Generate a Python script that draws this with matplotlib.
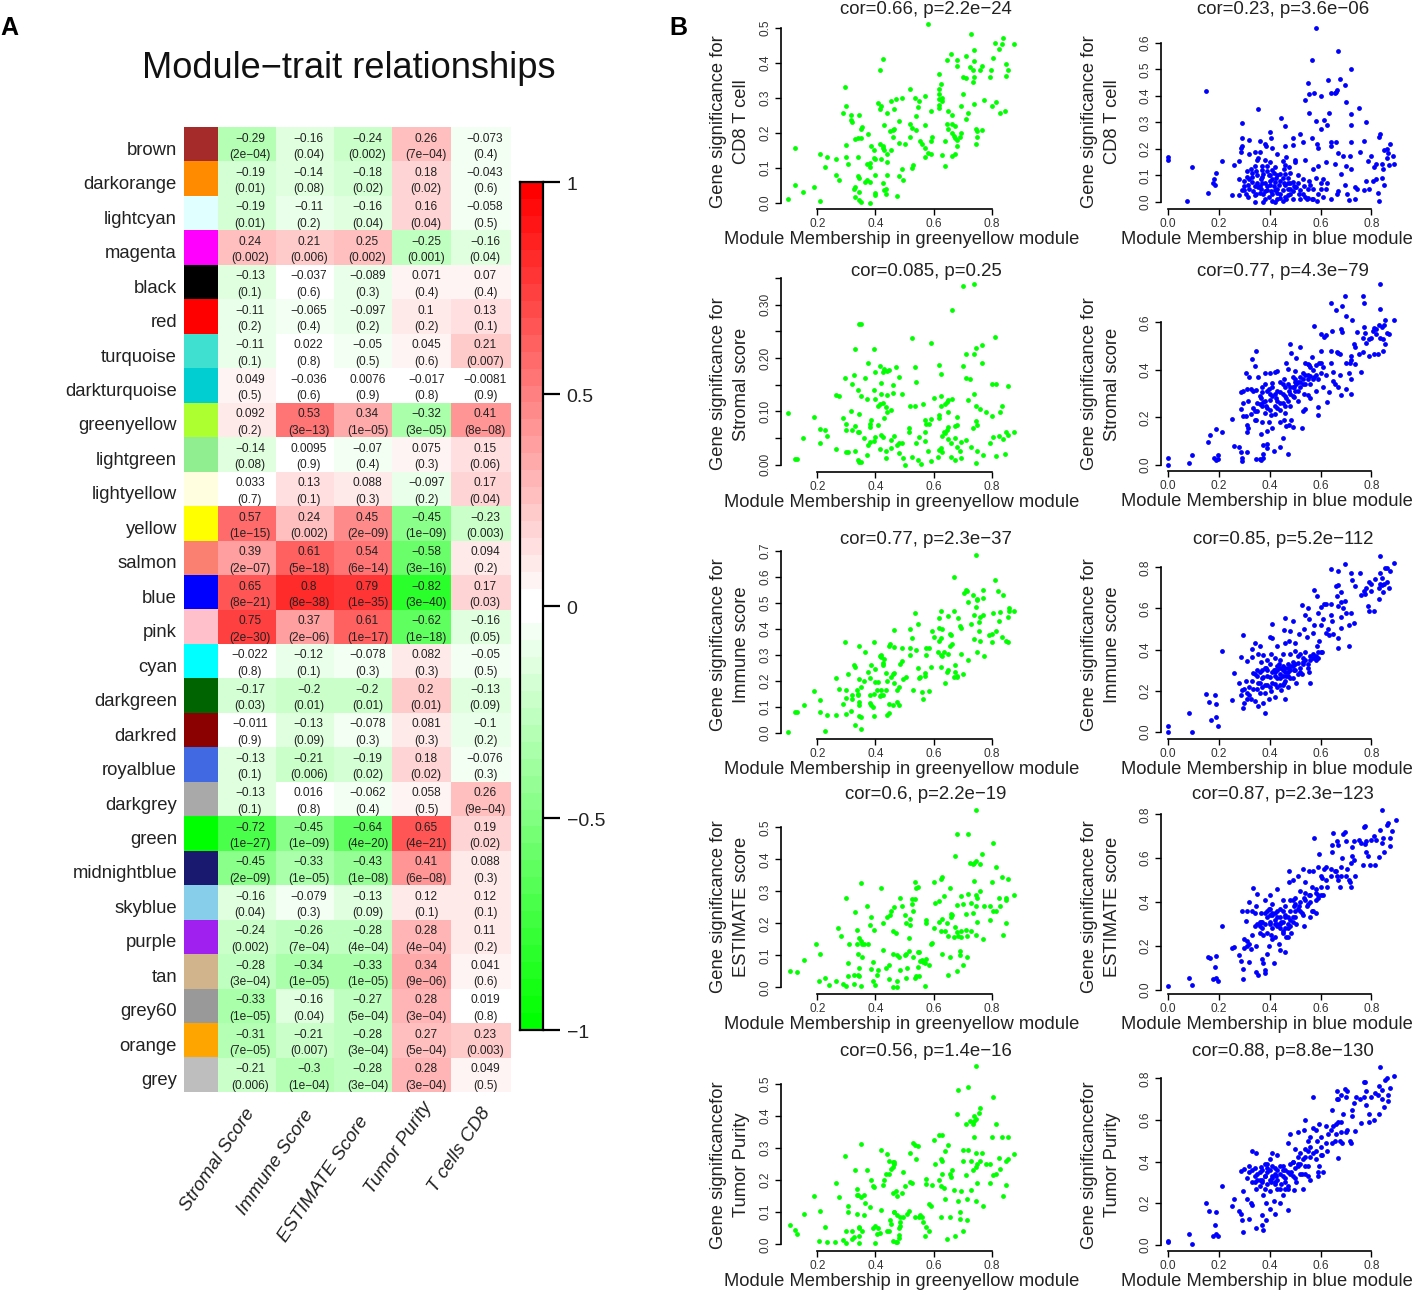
import numpy as np
import matplotlib
matplotlib.use("Agg")
import matplotlib.pyplot as plt
from matplotlib.colors import ListedColormap, BoundaryNorm, to_rgb
from matplotlib.transforms import ScaledTranslation

plt.rcParams['font.family'] = ['Liberation Sans', 'DejaVu Sans']

W, H = 1413, 1291

# --- heatmap data ---
modules = ['brown', 'darkorange', 'lightcyan', 'magenta', 'black', 'red', 'turquoise', 'darkturquoise',
           'greenyellow', 'lightgreen', 'lightyellow', 'yellow', 'salmon', 'blue', 'pink', 'cyan',
           'darkgreen', 'darkred', 'royalblue', 'darkgrey', 'green', 'midnightblue', 'skyblue', 'purple',
           'tan', 'grey60', 'orange', 'grey']
module_colors = ['#A52A2A', '#FF8C00', '#E0FFFF', '#FF00FF', '#000000', '#FF0000', '#40E0D0', '#00CED1',
                 '#ADFF2F', '#90EE90', '#FFFFE0', '#FFFF00', '#FA8072', '#0000FF', '#FFC0CB', '#00FFFF',
                 '#006400', '#8B0000', '#4169E1', '#A9A9A9', '#00FF00', '#191970', '#87CEEB', '#A020F0',
                 '#D2B48C', '#999999', '#FFA500', '#BEBEBE']
traits = ['Stromal Score', 'Immune Score', 'ESTIMATE Score', 'Tumor Purity', 'T cells CD8']
cor = [
    [-0.29, -0.16, -0.24, 0.26, -0.073],
    [-0.19, -0.14, -0.18, 0.18, -0.043],
    [-0.19, -0.11, -0.16, 0.16, -0.058],
    [0.24, 0.21, 0.25, -0.25, -0.16],
    [-0.13, -0.037, -0.089, 0.071, 0.07],
    [-0.11, -0.065, -0.097, 0.1, 0.13],
    [-0.11, 0.022, -0.05, 0.045, 0.21],
    [0.049, -0.036, 0.0076, -0.017, -0.0081],
    [0.092, 0.53, 0.34, -0.32, 0.41],
    [-0.14, 0.0095, -0.07, 0.075, 0.15],
    [0.033, 0.13, 0.088, -0.097, 0.17],
    [0.57, 0.24, 0.45, -0.45, -0.23],
    [0.39, 0.61, 0.54, -0.58, 0.094],
    [0.65, 0.8, 0.79, -0.82, 0.17],
    [0.75, 0.37, 0.61, -0.62, -0.16],
    [-0.022, -0.12, -0.078, 0.082, -0.05],
    [-0.17, -0.2, -0.2, 0.2, -0.13],
    [-0.011, -0.13, -0.078, 0.081, -0.1],
    [-0.13, -0.21, -0.19, 0.18, -0.076],
    [-0.13, 0.016, -0.062, 0.058, 0.26],
    [-0.72, -0.45, -0.64, 0.65, 0.19],
    [-0.45, -0.33, -0.43, 0.41, 0.088],
    [-0.16, -0.079, -0.13, 0.12, 0.12],
    [-0.24, -0.26, -0.28, 0.28, 0.11],
    [-0.28, -0.34, -0.33, 0.34, 0.041],
    [-0.33, -0.16, -0.27, 0.28, 0.019],
    [-0.31, -0.21, -0.28, 0.27, 0.23],
    [-0.21, -0.3, -0.28, 0.28, 0.049],
]
pvals = [
    ['2e-04', '0.04', '0.002', '7e-04', '0.4'],
    ['0.01', '0.08', '0.02', '0.02', '0.6'],
    ['0.01', '0.2', '0.04', '0.04', '0.5'],
    ['0.002', '0.006', '0.002', '0.001', '0.04'],
    ['0.1', '0.6', '0.3', '0.4', '0.4'],
    ['0.2', '0.4', '0.2', '0.2', '0.1'],
    ['0.1', '0.8', '0.5', '0.6', '0.007'],
    ['0.5', '0.6', '0.9', '0.8', '0.9'],
    ['0.2', '3e-13', '1e-05', '3e-05', '8e-08'],
    ['0.08', '0.9', '0.4', '0.3', '0.06'],
    ['0.7', '0.1', '0.3', '0.2', '0.04'],
    ['1e-15', '0.002', '2e-09', '1e-09', '0.003'],
    ['2e-07', '5e-18', '6e-14', '3e-16', '0.2'],
    ['8e-21', '8e-38', '1e-35', '3e-40', '0.03'],
    ['2e-30', '2e-06', '1e-17', '1e-18', '0.05'],
    ['0.8', '0.1', '0.3', '0.3', '0.5'],
    ['0.03', '0.01', '0.01', '0.01', '0.09'],
    ['0.9', '0.09', '0.3', '0.3', '0.2'],
    ['0.1', '0.006', '0.02', '0.02', '0.3'],
    ['0.1', '0.8', '0.4', '0.5', '9e-04'],
    ['1e-27', '1e-09', '4e-20', '4e-21', '0.02'],
    ['2e-09', '1e-05', '1e-08', '6e-08', '0.3'],
    ['0.04', '0.3', '0.09', '0.1', '0.1'],
    ['0.002', '7e-04', '4e-04', '4e-04', '0.2'],
    ['3e-04', '1e-05', '1e-05', '9e-06', '0.6'],
    ['1e-05', '0.04', '5e-04', '3e-04', '0.8'],
    ['7e-05', '0.007', '3e-04', '5e-04', '0.003'],
    ['0.006', '1e-04', '3e-04', '3e-04', '0.5'],
]

# --- scatter data (module membership, gene significance) ---
gy_cd8 = [(.58,.51),(.73,.483),(.84,.47),(.81,.455),(.835,.452),(.875,.453),(.825,.44),(.66,.425),(.74,.435),(.645,.407),
(.68,.407),(.71,.418),(.74,.405),(.805,.413),(.415,.378),(.425,.41),(.68,.39),(.725,.387),(.735,.38),(.76,.38),
(.765,.39),(.797,.378),(.85,.397),(.855,.378),(.62,.367),(.70,.36),(.71,.355),(.74,.36),(.795,.36),(.85,.363),
(.625,.34),(.735,.345),(.62,.325),(.52,.325),(.295,.33),(.70,.31),(.62,.31),(.57,.305),(.535,.30),(.63,.30),
(.49,.30),(.47,.297),(.455,.29),(.55,.29),(.62,.297),(.63,.29),(.41,.285),(.30,.277),(.62,.28),(.695,.275),
(.74,.283),(.775,.292),(.815,.287),(.80,.275),(.845,.263),(.83,.255),(.62,.27),(.65,.263),(.72,.255),(.665,.25),
(.59,.262),(.42,.275),(.415,.268),(.465,.268),(.44,.257),(.545,.272),(.29,.255),(.315,.25),(.345,.25),(.54,.247),
(.71,.24),(.315,.235),(.32,.23),(.48,.232),(.43,.222),(.52,.226),(.57,.223),(.645,.225),(.665,.225),(.65,.21),
(.675,.22),(.525,.213),(.54,.207),(.355,.215),(.35,.21),(.465,.212),(.45,.205),(.46,.207),(.375,.195),(.745,.21),
(.75,.205),(.765,.207),(.665,.2),(.695,.2),(.67,.19),(.675,.185),(.69,.187),(.46,.187),(.52,.187),(.595,.187),
(.33,.182),(.34,.185),(.35,.185),(.75,.187),(.555,.177),(.59,.175),(.64,.175),(.68,.178),(.48,.17),(.50,.167),
(.56,.167),(.745,.167),(.30,.165),(.385,.163),(.415,.167),(.425,.163),(.68,.163),(.57,.155),(.425,.155),(.43,.152),
(.455,.15),(.395,.15),(.125,.155),(.44,.14),(.58,.143),(.59,.14),(.21,.14),(.30,.13),(.235,.13),(.34,.13),
(.395,.127),(.40,.125),(.42,.125),(.63,.137),(.675,.138),(.665,.133),(.57,.13),(.265,.125),(.44,.117),(.305,.11),
(.37,.112),(.38,.113),(.38,.103),(.225,.103),(.53,.108),(.525,.10),(.64,.105),(.49,.097),(.44,.08),(.265,.08),
(.40,.08),(.48,.075),(.34,.075),(.345,.07),(.495,.065),(.275,.065),(.37,.065),(.365,.06),(.38,.06),(.425,.057),
(.125,.05),(.19,.045),(.33,.045),(.325,.038),(.435,.04),(.345,.032),(.43,.035),(.15,.03),(.40,.027),(.40,.022),
(.435,.025),(.33,.017),(.475,.018),(.10,.01),(.21,.005),(.345,.007),(.35,.003),(.38,.0)]

gy_stromal = [(.10,.097),(.125,.01),(.13,.01),(.15,.05),(.19,.09),(.21,.067),(.21,.04),(.225,.065),(.235,.054),(.265,.03),
(.265,.13),(.275,.128),(.29,.088),(.295,.162),(.30,.077),(.30,.065),(.30,.024),(.305,.024),(.315,.10),(.32,.065),
(.32,.152),(.325,.169),(.33,.217),(.33,.026),(.33,.072),(.34,.14),(.34,.062),(.345,.062),(.345,.096),(.34,.009),
(.345,.005),(.35,.005),(.345,.263),(.35,.263),(.35,.129),(.36,.05),(.365,.163),(.37,.124),(.37,.018),(.375,.19),
(.375,.037),(.38,.042),(.38,.076),(.38,.071),(.385,.083),(.395,.14),(.395,.044),(.395,.217),(.40,.173),(.40,.052),
(.40,.123),(.41,.074),(.41,.11),(.415,.186),(.415,.03),(.415,.113),(.425,.115),(.42,.055),(.425,.052),(.42,.153),
(.42,.133),(.425,.174),(.43,.18),(.435,.025),(.435,.109),(.43,.087),(.435,.013),(.44,.176),(.445,.178),(.44,.098),
(.44,.131),(.455,.032),(.455,.047),(.455,.102),(.46,.134),(.46,.149),(.465,.054),(.47,.184),(.475,.037),(.48,.165),
(.48,.022),(.48,.04),(.49,.041),(.49,.132),(.495,.012),(.50,.0),(.515,.068),(.515,.062),(.52,.11),(.535,.111),
(.525,.238),(.525,.015),(.535,.183),(.54,.041),(.54,.155),(.545,.009),(.55,.052),(.558,.001),(.565,.114),(.57,.062),
(.57,.045),(.57,.084),(.575,.076),(.58,.025),(.585,.076),(.59,.085),(.59,.007),(.59,.229),(.60,.125),(.615,.015),
(.62,.094),(.62,.187),(.62,.087),(.62,.027),(.625,.17),(.625,.111),(.625,.129),(.625,.032),(.63,.054),(.63,.024),
(.635,.062),(.64,.059),(.64,.114),(.645,.118),(.65,.121),(.65,.099),(.65,.048),(.65,.07),(.645,.065),(.66,.041),
(.66,.015),(.665,.29),(.665,.123),(.675,.073),(.675,.009),(.675,.051),(.68,.075),(.68,.09),(.68,.034),(.69,.026),
(.695,.013),(.695,.043),(.70,.185),(.70,.336),(.71,.162),(.71,.207),(.71,.046),(.72,.121),(.725,.16),(.73,.034),
(.735,.069),(.74,.207),(.74,.339),(.74,.132),(.745,.004),(.745,.111),(.745,.082),(.745,.218),(.75,.074),(.75,.026),
(.76,.104),(.765,.224),(.765,.19),(.77,.018),(.78,.098),(.795,.04),(.80,.091),(.80,.151),(.805,.052),(.81,.239),
(.815,.152),(.815,.017),(.825,.054),(.83,.098),(.835,.111),(.84,.049),(.845,.021),(.85,.061),(.855,.147),(.855,.056),(.875,.061)]

gy_immune = [(.10,.003),(.125,.078),(.13,.078),(.155,.108),(.19,.16),(.21,.127),(.21,.078),(.225,.005),(.235,.07),(.265,.067),
(.265,.21),(.275,.17),(.29,.11),(.295,.35),(.30,.165),(.30,.135),(.30,.073),(.305,.225),(.315,.085),(.32,.145),
(.32,.13),(.325,.262),(.33,.255),(.33,.03),(.335,.165),(.34,.145),(.34,.15),(.345,.12),(.345,.105),(.345,.335),
(.345,.205),(.345,.065),(.35,.06),(.35,.175),(.35,.015),(.36,.2),(.365,.31),(.375,.235),(.38,.21),(.38,.145),
(.38,.115),(.385,.105),(.385,.26),(.39,.10),(.395,.065),(.395,.15),(.395,.35),(.40,.195),(.40,.245),(.405,.165),
(.41,.195),(.415,.295),(.415,.14),(.42,.145),(.42,.29),(.42,.30),(.42,.165),(.425,.27),(.425,.145),(.425,.26),
(.43,.285),(.435,.23),(.435,.165),(.44,.20),(.44,.07),(.445,.075),(.445,.11),(.445,.335),(.45,.34),(.455,.215),
(.46,.105),(.46,.225),(.465,.19),(.465,.23),(.465,.33),(.465,.395),(.475,.12),(.475,.165),(.48,.105),(.48,.175),
(.485,.265),(.49,.325),(.49,.275),(.495,.205),(.505,.215),(.52,.30),(.52,.40),(.52,.325),(.525,.365),(.53,.165),
(.535,.46),(.54,.32),(.545,.25),(.545,.42),(.55,.21),(.555,.215),(.56,.155),(.565,.13),(.57,.23),(.57,.22),
(.575,.30),(.575,.325),(.585,.325),(.585,.16),(.59,.255),(.595,.39),(.60,.37),(.615,.31),(.62,.405),(.62,.44),
(.62,.355),(.625,.30),(.625,.255),(.625,.365),(.625,.47),(.63,.40),(.63,.295),(.635,.31),(.64,.19),(.645,.235),
(.65,.24),(.65,.45),(.65,.305),(.655,.38),(.655,.335),(.66,.375),(.665,.34),(.67,.47),(.67,.60),(.67,.215),
(.675,.26),(.675,.235),(.68,.22),(.68,.215),(.685,.44),(.69,.41),(.695,.405),(.695,.305),(.70,.225),(.705,.54),
(.71,.55),(.715,.545),(.72,.28),(.72,.505),(.73,.42),(.735,.53),(.74,.455),(.74,.36),(.745,.485),(.75,.515),
(.75,.51),(.75,.31),(.755,.425),(.755,.39),(.76,.445),(.76,.355),(.77,.455),(.77,.52),(.77,.55),(.775,.295),
(.79,.375),(.80,.35),(.80,.38),(.805,.46),(.81,.59),(.815,.39),(.82,.545),(.825,.43),(.83,.465),(.835,.37),
(.84,.53),(.85,.355),(.855,.35),(.855,.445),(.86,.47),(.86,.48),(.875,.47),(.745,.685)]

gy_estimate = [(.105,.05),(.13,.047),(.155,.085),(.195,.135),(.21,.105),(.205,.02),(.225,.03),(.24,.008),(.265,.02),(.27,.185),
(.28,.16),(.29,.01),(.30,.278),(.30,.005),(.305,.035),(.305,.075),(.31,.135),(.325,.04),(.325,.01),(.33,.235),
(.335,.135),(.335,.18),(.34,.103),(.34,.04),(.345,.155),(.345,.035),(.35,.325),(.345,.06),(.35,.005),(.35,.145),
(.355,.095),(.355,.135),(.36,.135),(.37,.255),(.375,.135),(.38,.195),(.385,.058),(.385,.22),(.39,.08),(.39,.02),
(.395,.18),(.40,.008),(.405,.04),(.41,.055),(.42,.31),(.425,.118),(.425,.20),(.435,.06),(.44,.22),(.445,.07),
(.445,.025),(.45,.225),(.455,.24),(.46,.175),(.46,.105),(.46,.0),(.465,.25),(.47,.17),(.475,.10),(.475,.02),
(.475,.0),(.48,.095),(.485,.28),(.485,.055),(.49,.255),(.50,.10),(.505,.03),(.51,.06),(.515,.155),(.525,.26),
(.53,.24),(.535,.03),(.54,.035),(.545,.065),(.55,.035),(.555,.082),(.50,.225),(.505,.20),(.505,.105),(.515,.115),
(.52,.215),(.52,.195),(.525,.275),(.535,.275),(.53,.095),(.535,.33),(.54,.31),(.545,.315),(.545,.11),(.55,.11),
(.56,.085),(.565,.08),(.57,.075),(.575,.09),(.575,.21),(.575,.20),(.57,.005),(.585,.07),(.59,.135),(.595,.14),
(.60,.185),(.60,.33),(.605,.265),(.62,.27),(.62,.205),(.625,.175),(.625,.34),(.63,.215),(.63,.345),(.63,.105),
(.635,.285),(.64,.175),(.645,.20),(.65,.16),(.65,.04),(.655,.31),(.655,.095),(.66,.22),(.66,.23),(.665,.225),
(.675,.19),(.675,.41),(.68,.48),(.68,.05),(.685,.16),(.69,.10),(.69,.115),(.695,.175),(.695,.285),(.70,.26),
(.70,.07),(.71,.23),(.715,.16),(.715,.095),(.72,.48),(.725,.39),(.73,.175),(.735,.385),(.765,.418),(.76,.385),
(.74,.39),(.745,.395),(.74,.332),(.76,.302),(.745,.29),(.75,.28),(.72,.293),(.73,.265),(.745,.255),(.735,.232),
(.75,.205),(.745,.165),(.77,.15),(.775,.255),(.795,.255),(.795,.21),(.80,.33),(.805,.24),(.815,.24),(.805,.45),
(.815,.377),(.825,.28),(.83,.255),(.835,.345),(.85,.20),(.84,.165),(.85,.273),(.85,.28),(.855,.34),(.875,.287),
(.745,.555),(.71,.178),(.695,.158),(.67,.158),(.68,.174),(.68,.257)]

gy_purity = [(.105,.06),(.125,.043),(.13,.033),(.155,.093),(.19,.15),(.205,.01),(.21,.103),(.225,.055),(.235,.007),(.26,.008),
(.265,.19),(.275,.147),(.29,.012),(.295,.275),(.30,.04),(.30,.005),(.305,.10),(.305,.118),(.32,.04),(.32,.018),
(.325,.023),(.33,.232),(.335,.155),(.335,.173),(.335,.095),(.34,.153),(.345,.055),(.345,.05),(.345,.025),(.345,.005),
(.35,.313),(.35,.148),(.355,.042),(.36,.155),(.36,.09),(.365,.128),(.37,.232),(.38,.115),(.385,.20),(.39,.18),
(.39,.05),(.395,.178),(.40,.058),(.40,.003),(.405,.033),(.41,.052),(.415,.035),(.42,.295),(.42,.107),(.425,.185),
(.43,.20),(.435,.218),(.44,.04),(.445,.22),(.445,.04),(.45,.077),(.455,.233),(.46,.24),(.46,.16),(.465,.25),
(.465,.10),(.47,.165),(.47,.008),(.475,.09),(.48,.028),(.48,.02),(.485,.07),(.485,.085),(.44,.28),(.445,.26),
(.46,.255),(.465,.10),(.455,.062),(.46,.01),(.465,.255),(.475,.15),(.475,.008),(.48,.05),(.485,.058),(.49,.16),
(.495,.085),(.495,.225),(.50,.18),(.51,.095),(.515,.105),(.52,.285),(.52,.195),(.525,.19),(.53,.315),(.535,.085),
(.535,.31),(.54,.265),(.545,.305),(.55,.085),(.555,.09),(.56,.085),(.565,.07),(.57,.025),(.575,.203),(.575,.188),
(.575,.055),(.585,.04),(.585,.125),(.59,.12),(.595,.185),(.60,.325),(.605,.25),(.62,.34),(.62,.20),(.625,.18),
(.625,.265),(.625,.085),(.63,.34),(.63,.22),(.63,.26),(.635,.175),(.64,.14),(.64,.29),(.645,.015),(.65,.31),
(.655,.085),(.655,.22),(.66,.21),(.665,.23),(.67,.17),(.675,.025),(.68,.405),(.685,.48),(.685,.135),(.69,.08),
(.69,.10),(.695,.165),(.70,.295),(.70,.26),(.70,.04),(.71,.215),(.715,.14),(.715,.075),(.72,.49),(.725,.385),
(.73,.17),(.735,.375),(.74,.385),(.76,.425),(.755,.41),(.74,.40),(.745,.39),(.74,.335),(.765,.285),(.745,.285),
(.75,.25),(.72,.295),(.73,.26),(.745,.24),(.735,.23),(.75,.19),(.745,.135),(.77,.12),(.78,.25),(.795,.25),
(.795,.19),(.80,.335),(.805,.215),(.805,.46),(.815,.375),(.815,.22),(.825,.27),(.83,.235),(.835,.335),(.85,.185),
(.84,.15),(.85,.26),(.855,.265),(.855,.335),(.875,.28),(.745,.555),(.71,.375),(.76,.26)]

blue_cd8 = [(0,.168),(0,.157),(.075,.002),(.095,.13),(.15,.418),(.155,.033),(.175,.073),(.18,.085),(.185,.065),(.19,.11),
(.21,.155),(.25,.025),(.26,.14),(.28,.155),(.28,.085),(.28,.025),(.285,.19),(.285,.205),(.29,.21),(.29,.045),
(.29,.297),(.29,.24),(.30,.08),(.30,.045),(.305,.03),(.31,.115),(.315,.065),(.315,.02),(.32,.18),(.32,.05),
(.32,.235),(.325,.125),(.33,.095),(.33,.075),(.335,.04),(.34,.06),(.34,.135),(.34,.19),(.345,.03),(.345,.115),
(.34,.0),(.35,.16),(.355,.055),(.355,.165),(.36,.19),(.36,.228),(.355,.352),(.365,.05),(.365,.085),(.37,.12),
(.37,.07),(.375,.03),(.375,.105),(.38,.16),(.38,.04),(.385,.21),(.375,.0),(.39,.135),(.39,.06),(.38,.22),
(.395,.10),(.395,.02),(.40,.15),(.40,.08),(.405,.04),(.40,.265),(.41,.12),(.41,.005),(.415,.06),(.415,.11),
(.41,.205),(.405,.24),(.42,.13),(.425,.09),(.42,.0),(.43,.01),(.43,.05),(.435,.065),(.44,.105),(.44,.03),
(.43,.18),(.45,.005),(.45,.155),(.455,.07),(.455,.125),(.46,.02),(.46,.14),(.445,.317),(.465,.01),(.47,.05),
(.46,.285),(.47,.09),(.46,.21),(.465,.17),(.48,.11),(.48,.03),(.475,.13),(.49,.075),(.49,.01),(.495,.06),
(.49,.215),(.50,.16),(.505,.055),(.51,.10),(.49,.24),(.515,.03),(.52,.01),(.50,.15),(.53,.085),(.52,.255),
(.535,.06),(.54,.02),(.53,.225),(.545,.01),(.54,.16),(.55,.05),(.54,.385),(.55,.45),(.555,.08),(.565,.01),
(.555,.335),(.555,.405),(.565,.24),(.565,.535),(.57,.125),(.57,.05),(.575,.41),(.58,.305),(.585,.005),(.585,.22),
(.59,.205),(.59,.135),(.60,.275),(.60,.40),(.60,.05),(.61,.085),(.615,.31),(.62,.15),(.625,.29),(.63,.46),
(.625,.07),(.635,.335),(.64,.41),(.64,.225),(.64,.21),(.64,.01),(.655,.41),(.655,.145),(.66,.225),(.66,.415),
(.665,.42),(.665,.03),(.67,.185),(.67,.57),(.675,.465),(.67,.04),(.68,.105),(.69,.175),(.695,.44),(.695,.065),
(.70,.135),(.70,.375),(.705,.03),(.71,.008),(.715,.175),(.72,.33),(.72,.225),(.72,.29),(.72,.50),(.72,.125),
(.735,.01),(.735,.055),(.75,.355),(.745,.05),(.755,.19),(.77,.23),(.77,.045),(.78,.30),(.78,.08),(.785,.155),
(.79,.05),(.80,.175),(.805,.08),(.81,.13),(.82,.085),(.82,.145),(.825,.035),(.83,.245),(.835,.255),(.84,.145),
(.84,.09),(.83,.005),(.845,.125),(.85,.195),(.85,.065),(.86,.165),(.86,.20),(.865,.185),(.87,.14),(.875,.22),
(.885,.175),(.89,.145),(.58,.655),(.31,.095),(.33,.11),(.35,.07),(.36,.035),(.37,.095),(.38,.07),(.39,.045),(.40,.10),
(.41,.03),(.42,.075),(.43,.035),(.44,.08),(.45,.045),(.46,.065),(.47,.025),(.48,.07),(.49,.04),(.50,.055),
(.30,.06),(.32,.085),(.34,.025),(.35,.10),(.36,.06),(.37,.135),(.38,.01),(.39,.115),(.40,.065),(.41,.085),
(.42,.045),(.43,.10),(.44,.015),(.45,.09),(.46,.105),(.47,.07),(.48,.05),(.51,.07),(.52,.045),(.53,.03),
(.55,.015),(.56,.065),(.57,.01),(.58,.09),(.59,.03),(.60,.07),(.61,.02),(.62,.05)]

blue_stromal = [(0,.0),(0,.03),(.08,.01),(.095,.04),(.155,.095),(.165,.125),(.18,.03),(.19,.02),(.19,.15),(.195,.025),
(.195,.04),(.21,.14),(.25,.195),(.26,.08),(.28,.075),(.285,.235),(.285,.055),(.29,.03),(.29,.015),(.285,.305),
(.295,.31),(.295,.205),(.295,.26),(.305,.205),(.31,.32),(.31,.055),(.305,.385),(.31,.14),(.31,.17),(.315,.155),
(.315,.27),(.32,.37),(.325,.215),(.325,.32),(.33,.445),(.335,.31),(.335,.24),(.34,.19),(.34,.415),(.34,.225),
(.345,.19),(.345,.315),(.345,.48),(.345,.025),(.35,.26),(.36,.025),(.355,.37),(.36,.255),(.365,.13),(.365,.28),
(.365,.02),(.37,.305),(.375,.03),(.37,.18),(.375,.265),(.375,.085),(.375,.045),(.38,.34),(.38,.385),(.385,.25),
(.39,.145),(.39,.07),(.39,.09),(.395,.32),(.395,.18),(.40,.275),(.40,.385),(.405,.21),(.41,.345),(.41,.155),
(.415,.06),(.42,.215),(.42,.39),(.425,.28),(.43,.395),(.43,.24),(.44,.35),(.44,.18),(.44,.305),(.44,.075),
(.45,.115),(.45,.26),(.455,.19),(.455,.36),(.46,.22),(.46,.33),(.465,.165),(.465,.28),(.465,.43),(.47,.045),
(.47,.405),(.475,.17),(.475,.31),(.48,.25),(.48,.51),(.485,.19),(.485,.47),(.49,.37),(.49,.16),(.495,.33),
(.495,.285),(.50,.35),(.50,.395),(.505,.45),(.505,.34),(.51,.27),(.52,.495),(.525,.155),(.52,.37),(.53,.225),
(.53,.385),(.535,.30),(.54,.43),(.54,.235),(.55,.425),(.55,.295),(.555,.42),(.575,.585),(.56,.375),(.56,.28),
(.565,.455),(.59,.21),(.59,.245),(.575,.37),(.58,.42),(.60,.55),(.60,.48),(.595,.43),(.60,.385),(.62,.545),
(.61,.33),(.615,.54),(.625,.265),(.635,.305),(.64,.48),(.64,.43),(.64,.68),(.645,.565),(.65,.355),(.655,.34),
(.65,.39),(.66,.65),(.665,.475),(.67,.47),(.67,.33),(.675,.38),(.675,.465),(.68,.295),(.685,.67),(.68,.57),
(.685,.56),(.70,.43),(.695,.71),(.70,.32),(.70,.625),(.71,.385),(.715,.43),(.72,.36),(.72,.44),(.72,.46),
(.725,.61),(.72,.30),(.735,.425),(.735,.495),(.73,.51),(.745,.56),(.75,.465),(.76,.39),(.765,.535),(.765,.475),
(.77,.58),(.765,.71),(.77,.68),(.775,.555),(.78,.515),(.79,.46),(.79,.53),(.80,.535),(.805,.565),(.81,.465),
(.81,.575),(.82,.55),(.825,.465),(.83,.59),(.835,.76),(.835,.655),(.835,.535),(.845,.48),(.89,.61),(.87,.55),
(.86,.555),(.85,.59),(.855,.61),(.84,.58),(.845,.53),(.82,.57),(.855,.51),(.40,.30),(.41,.29),(.42,.25),
(.43,.31),(.44,.26),(.45,.30),(.46,.25),(.47,.34),(.48,.30),(.49,.33),(.50,.36),(.51,.35),(.52,.33),
(.53,.34),(.54,.38),(.55,.38),(.56,.41),(.57,.40),(.58,.38),(.36,.29),(.37,.25),(.38,.27),(.39,.24),
(.35,.225),(.37,.33),(.38,.22),(.39,.31),(.40,.23),(.41,.33),(.42,.30),(.43,.27),(.44,.23),(.45,.34),
(.46,.29),(.47,.27),(.48,.33),(.49,.29),(.50,.31),(.51,.31),(.52,.35),(.53,.36),(.54,.34),(.55,.36),
(.56,.34),(.57,.36),(.58,.31),(.59,.36),(.60,.43),(.61,.41),(.62,.38)]

blue_immune = [(0,.03),(0,.0),(.08,.09),(.095,.0),(.15,.185),(.16,.145),(.17,.06),(.185,.18),(.19,.075),(.19,.135),
(.195,.03),(.21,.395),(.25,.155),(.26,.285),(.28,.24),(.285,.365),(.285,.18),(.29,.205),(.295,.47),(.295,.115),
(.30,.14),(.305,.25),(.31,.19),(.31,.345),(.32,.22),(.325,.16),(.33,.365),(.335,.285),(.335,.21),(.33,.405),
(.34,.15),(.34,.43),(.35,.30),(.355,.24),(.355,.125),(.355,.38),(.36,.19),(.36,.42),(.365,.34),(.37,.22),
(.375,.14),(.375,.265),(.375,.375),(.38,.09),(.38,.19),(.385,.31),(.39,.35),(.39,.23),(.395,.16),(.40,.46),
(.40,.265),(.405,.38),(.405,.20),(.41,.525),(.41,.455),(.415,.30),(.42,.235),(.42,.36),(.42,.17),(.43,.42),
(.43,.26),(.435,.33),(.44,.28),(.44,.35),(.445,.205),(.45,.38),(.45,.30),(.455,.24),(.455,.495),(.46,.16),
(.46,.43),(.465,.27),(.47,.33),(.46,.555),(.47,.22),(.475,.44),(.48,.38),(.485,.32),(.49,.26),(.48,.49),
(.495,.30),(.50,.395),(.50,.43),(.505,.24),(.49,.54),(.51,.335),(.515,.475),(.52,.38),(.525,.28),(.525,.615),
(.53,.34),(.535,.50),(.54,.39),(.54,.57),(.55,.33),(.545,.46),(.55,.60),(.555,.29),(.56,.35),(.555,.55),
(.56,.24),(.57,.38),(.57,.48),(.575,.69),(.58,.37),(.585,.66),(.575,.52),(.585,.42),(.59,.39),(.59,.58),
(.595,.44),(.60,.52),(.60,.605),(.605,.39),(.615,.62),(.62,.62),(.61,.55),(.62,.48),(.63,.50),(.635,.47),
(.64,.79),(.64,.57),(.64,.62),(.645,.54),(.65,.475),(.66,.71),(.67,.715),(.665,.66),(.67,.41),(.67,.455),
(.67,.61),(.68,.68),(.68,.63),(.68,.56),(.69,.60),(.68,.505),(.695,.635),(.695,.815),(.67,.78),(.71,.42),
(.71,.52),(.70,.58),(.72,.77),(.72,.58),(.73,.53),(.725,.74),(.735,.71),(.755,.77),(.76,.665),(.775,.67),
(.77,.685),(.785,.61),(.79,.59),(.79,.73),(.78,.70),(.80,.72),(.81,.59),(.80,.685),(.815,.745),(.83,.70),
(.83,.645),(.835,.77),(.835,.72),(.84,.75),(.84,.715),(.835,.855),(.85,.72),(.845,.68),(.86,.73),(.855,.795),
(.86,.795),(.87,.70),(.875,.78),(.89,.82),(.42,.30),(.43,.32),(.44,.31),(.45,.27),(.46,.29),(.47,.31),
(.35,.27),(.36,.29),(.37,.26),(.38,.31),(.39,.27),(.40,.33),(.41,.29),(.42,.27),(.43,.30),(.44,.23),
(.45,.32),(.46,.25),(.47,.27),(.48,.30),(.49,.34),(.50,.33),(.51,.28),(.52,.31),(.53,.33),(.54,.35),
(.55,.31),(.56,.37),(.57,.36),(.58,.35),(.59,.36),(.60,.39),(.30,.21),(.31,.16),(.32,.18),(.33,.25),
(.34,.28),(.35,.21),(.36,.24),(.37,.30),(.38,.23),(.39,.30),(.40,.22),(.41,.24),(.42,.29),(.43,.22),
(.44,.26),(.45,.23),(.46,.31),(.47,.29),(.48,.26),(.49,.32),(.50,.30),(.51,.37),(.52,.29),(.53,.36)]

blue_estimate = [(0,.015),(.08,.055),(.095,.02),(.155,.15),(.165,.145),(.175,.05),(.185,.105),(.19,.055),(.19,.155),(.195,.04),
(.21,.29),(.25,.19),(.26,.195),(.28,.16),(.285,.13),(.29,.36),(.295,.095),(.295,.05),(.30,.23),(.305,.315),
(.31,.22),(.31,.36),(.32,.125),(.32,.40),(.325,.185),(.33,.25),(.33,.36),(.335,.465),(.34,.29),(.345,.20),
(.345,.38),(.35,.435),(.36,.29),(.345,.08),(.365,.35),(.355,.065),(.365,.31),(.375,.25),(.37,.14),(.375,.12),
(.38,.075),(.38,.41),(.39,.36),(.39,.165),(.38,.09),(.395,.37),(.395,.20),(.40,.31),(.40,.43),(.405,.25),
(.41,.34),(.415,.12),(.41,.39),(.42,.24),(.43,.46),(.43,.30),(.435,.21),(.44,.37),(.44,.18),(.445,.31),
(.45,.41),(.45,.27),(.46,.17),(.475,.49),(.46,.34),(.465,.24),(.475,.54),(.47,.30),(.48,.41),(.485,.26),
(.49,.33),(.49,.50),(.495,.38),(.50,.42),(.505,.30),(.51,.52),(.515,.38),(.52,.45),(.525,.35),(.53,.55),
(.535,.42),(.535,.29),(.54,.49),(.545,.38),(.555,.54),(.555,.43),(.56,.33),(.565,.47),(.565,.36),(.57,.54),
(.575,.69),(.58,.44),(.58,.35),(.59,.56),(.59,.43),(.60,.47),(.595,.62),(.605,.51),(.61,.43),(.615,.55),
(.62,.56),(.625,.47),(.64,.52),(.645,.66),(.645,.63),(.65,.715),(.655,.54),(.665,.52),(.665,.68),(.67,.66),
(.67,.50),(.675,.47),(.68,.56),(.685,.60),(.69,.71),(.695,.72),(.70,.68),(.705,.55),(.71,.50),(.715,.49),
(.72,.47),(.725,.65),(.725,.61),(.73,.59),(.735,.52),(.73,.68),(.75,.685),(.76,.67),(.765,.57),(.77,.74),
(.775,.745),(.775,.665),(.78,.63),(.78,.68),(.785,.61),(.795,.57),(.80,.685),(.81,.70),(.815,.57),(.82,.685),
(.83,.605),(.835,.73),(.84,.82),(.84,.67),(.845,.69),(.85,.63),(.86,.75),(.865,.76),(.875,.69),(.875,.655),
(.88,.725),(.895,.775),(.40,.30),(.41,.28),(.42,.35),(.43,.29),(.44,.33),(.45,.36),(.46,.28),(.47,.33),
(.48,.29),(.49,.31),(.50,.36),(.36,.31),(.37,.28),(.38,.35),(.39,.26),(.40,.34),(.41,.23),(.42,.30),
(.43,.36),(.44,.28),(.45,.26),(.46,.33),(.47,.24),(.48,.36),(.49,.41),(.50,.33),(.51,.37),(.52,.40),
(.53,.34),(.54,.41),(.55,.39),(.56,.40),(.57,.36),(.58,.41),(.59,.42),(.60,.43),(.35,.30),(.37,.31),
(.39,.33),(.41,.35),(.43,.33),(.45,.31),(.47,.28),(.31,.20),(.32,.21),(.30,.19),(.34,.35),(.36,.26),
(.38,.30),(.40,.37),(.42,.32),(.44,.30),(.46,.38),(.48,.32),(.50,.39),(.52,.36),(.54,.44),(.56,.43),
(.58,.46),(.60,.52),(.62,.50),(.64,.55),(.66,.54),(.68,.52),(.70,.52),(.72,.58)]

blue_purity = [(0,.02),(0,.015),(.08,.05),(.095,.005),(.15,.2),(.16,.16),(.175,.04),(.185,.095),(.19,.05),(.19,.155),
(.195,.04),(.21,.28),(.25,.185),(.26,.22),(.28,.16),(.285,.15),(.285,.355),(.29,.12),(.295,.06),(.30,.365),
(.295,.26),(.31,.32),(.31,.22),(.32,.125),(.32,.38),(.325,.20),(.33,.19),(.33,.36),(.34,.30),(.345,.27),
(.33,.45),(.35,.34),(.345,.44),(.36,.28),(.345,.08),(.365,.375),(.37,.31),(.37,.095),(.37,.145),(.375,.24),
(.375,.07),(.38,.33),(.385,.20),(.385,.12),(.39,.35),(.39,.39),(.40,.17),(.40,.26),(.405,.30),(.41,.33),
(.41,.44),(.415,.21),(.42,.37),(.425,.33),(.42,.15),(.43,.27),(.43,.43),(.44,.34),(.44,.20),(.445,.29),
(.45,.38),(.45,.24),(.46,.30),(.46,.36),(.47,.165),(.47,.49),(.47,.28),(.48,.53),(.485,.35),(.49,.40),
(.495,.265),(.50,.46),(.505,.30),(.51,.54),(.51,.38),(.52,.44),(.525,.34),(.53,.27),(.535,.55),(.54,.46),
(.54,.38),(.54,.60),(.55,.33),(.55,.50),(.56,.42),(.56,.31),(.57,.56),(.57,.71),(.58,.45),(.585,.50),
(.59,.33),(.595,.58),(.595,.38),(.60,.52),(.605,.43),(.61,.35),(.62,.57),(.625,.45),(.63,.53),(.645,.65),
(.645,.49),(.65,.57),(.655,.50),(.66,.53),(.665,.74),(.665,.70),(.67,.70),(.67,.59),(.67,.415),(.675,.50),
(.68,.72),(.68,.54),(.685,.49),(.69,.63),(.695,.75),(.70,.71),(.705,.55),(.705,.74),(.715,.50),(.72,.49),
(.725,.65),(.725,.62),(.73,.68),(.735,.545),(.74,.71),(.755,.70),(.76,.585),(.77,.71),(.77,.78),(.775,.78),
(.78,.67),(.78,.74),(.79,.63),(.79,.59),(.80,.71),(.81,.60),(.815,.73),(.825,.72),(.83,.63),(.83,.765),
(.835,.855),(.84,.70),(.84,.745),(.85,.66),(.855,.79),(.86,.80),(.865,.72),(.865,.69),(.875,.755),(.89,.81),
(.36,.31),(.37,.30),(.38,.33),(.39,.29),(.40,.36),(.41,.32),(.42,.30),(.43,.31),(.44,.27),(.45,.36),
(.46,.32),(.47,.27),(.48,.34),(.49,.40),(.50,.32),(.51,.39),(.52,.34),(.54,.42),(.55,.38),(.56,.47),
(.58,.41),(.59,.35),(.60,.43),(.38,.39),(.40,.41),(.42,.29),(.33,.30),(.34,.33),(.35,.31),(.37,.36),
(.39,.37),(.41,.38),(.43,.36),(.45,.33),(.47,.35),(.49,.33),(.51,.42),(.53,.41),(.55,.45),(.57,.44),
(.32,.35),(.34,.37),(.36,.35),(.38,.27),(.40,.31),(.42,.34),(.44,.38),(.46,.27),(.48,.39),(.50,.37),
(.52,.39),(.54,.34),(.56,.52),(.58,.55),(.60,.47),(.62,.49),(.64,.55),(.66,.58),(.68,.59),(.70,.54)]

# panel titles and y labels, row by row
cor_titles = [['cor=0.66, p=2.2e\u221224', 'cor=0.23, p=3.6e\u221206'],
              ['cor=0.085, p=0.25', 'cor=0.77, p=4.3e\u221279'],
              ['cor=0.77, p=2.3e\u221237', 'cor=0.85, p=5.2e\u2212112'],
              ['cor=0.6, p=2.2e\u221219', 'cor=0.87, p=2.3e\u2212123'],
              ['cor=0.56, p=1.4e\u221216', 'cor=0.88, p=8.8e\u2212130']]
y_names = ['Gene significance for\nCD8 T cell', 'Gene significance for\nStromal score',
           'Gene significance for\nImmune score', 'Gene significance for\nESTIMATE score',
           'Gene significancefor\nTumor Purity']


def fx(px):
    return px / W


def fy(py):
    return 1 - py / H


fig = plt.figure(figsize=(W / 100, H / 100), dpi=100)

# --- panel A: heatmap ---
n = 50
half = n // 2
ramp = np.linspace(0, 1, half)
cmap = ListedColormap(np.c_[np.r_[ramp, np.ones(half)],
                            np.r_[np.ones(half), ramp[::-1]],
                            np.r_[ramp, ramp[::-1]]])
norm = BoundaryNorm(np.linspace(-1, 1, n + 1), n)

top, bottom = 127, 1092
col_edges = np.array([218, 276, 334, 392, 451, 511])
ax = fig.add_axes([fx(218), fy(bottom), fx(511 - 218), (bottom - top) / H])
ax.pcolormesh(col_edges, np.arange(len(modules) + 1), np.array(cor), cmap=cmap, norm=norm)
ax.set_xlim(218, 511)
ax.set_ylim(len(modules), 0)
ax.axis('off')

strip = fig.add_axes([fx(184), fy(bottom), fx(34), (bottom - top) / H])
strip.imshow(np.array([[to_rgb(c)] for c in module_colors]), aspect='auto', interpolation='nearest')
strip.axis('off')

row_h = (bottom - top) / len(modules)
for i, name in enumerate(modules):
    fig.text(fx(177), fy(top + (i + 0.5) * row_h + 6), name, ha='right', va='center', fontsize=13.3, color='#222222')
    for j in range(len(traits)):
        cx = 250 + 58.75 * j
        fig.text(fx(cx), fy(top + i * row_h + 11.5), str(cor[i][j]).replace('-', '\u2212'),
                 ha='center', va='center', fontsize=8.6, color='#222222')
        fig.text(fx(cx), fy(top + i * row_h + 28), '(' + pvals[i][j].replace('-', '\u2212') + ')',
                 ha='center', va='center', fontsize=8.6, color='#222222')

label_ends = [(251, 1110), (310, 1112), (365, 1118), (429, 1104), (487, 1109)]
for name, (px, py) in zip(traits, label_ends):
    fig.text(fx(px), fy(py), name, rotation=56, rotation_mode='anchor', ha='right', va='center',
             fontsize=13.6, style='italic', color='#222222')

fig.text(fx(349), fy(69), 'Module\u2212trait relationships', ha='center', va='center', fontsize=26.1, color='#111111')
fig.text(fx(0), fy(28), 'A', ha='left', va='center', fontsize=18, fontweight='bold')
fig.text(fx(669), fy(28), 'B', ha='left', va='center', fontsize=18, fontweight='bold')

# colour bar
cb = fig.add_axes([fx(520), fy(1030), fx(23), 848 / H])
levels = np.linspace(-1, 1, n + 1)
cb.pcolormesh([0, 1], levels, levels[:-1][:, None] + 0.02, cmap=cmap, norm=norm)
cb.set_xticks([])
cb.set_xlim(0, 1)
cb.set_ylim(-1, 1)
cb.yaxis.tick_right()
cb.set_yticks([-1, -0.5, 0, 0.5, 1])
cb.set_yticklabels(['\u22121', '\u22120.5', '0', '0.5', '1'], fontsize=14, va='center')
cb.tick_params(axis='y', length=12, width=1.6, pad=5, color='black', labelcolor='#222222')
for lab in cb.get_yticklabels():
    lab.set_transform(lab.get_transform() + ScaledTranslation(0, -3 / 100, fig.dpi_scale_trans))
for s in cb.spines.values():
    s.set_linewidth(1.6)


# --- panel B: scatter plots ---
def scatter_panel(points, color, title, ylab, col, y_cal, x_axis_py, ticks, tick_labels, xticks, label_py, title_py):
    (v0, p0), (v1, p1) = y_cal
    if col == 0:
        left, right, x_a, x_b, tx, ylx, xlab_cx = 781, 1040, (0.2, 817.3), (0.8, 991.7), 926, 730, 902
        xlab = 'Module Membership in greenyellow module'
    else:
        left, right, x_a, x_b, tx, ylx, xlab_cx = 1160.5, 1413, (0.0, 1168.2), (0.8, 1371.4), 1283, 1101, 1267
        xlab = 'Module Membership in blue module'
    top_py = p1 - 40
    a = fig.add_axes([fx(left), fy(x_axis_py), (right - left) / W, (x_axis_py - top_py) / H])
    slope_x = (x_b[0] - x_a[0]) / (x_b[1] - x_a[1])
    a.set_xlim(x_a[0] + (left - x_a[1]) * slope_x, x_a[0] + (right - x_a[1]) * slope_x)
    slope_y = (v1 - v0) / (p1 - p0)
    a.set_ylim(v0 + (x_axis_py - p0) * slope_y, v0 + (top_py - p0) * slope_y)
    xs = [p[0] for p in points]
    ys = [p[1] for p in points]
    a.scatter(xs, ys, s=12, c=color, linewidths=0, clip_on=False)
    a.patch.set_alpha(0)
    for s in ['top', 'right']:
        a.spines[s].set_visible(False)
    a.spines['left'].set_bounds(ticks[0], ticks[-1])
    a.spines['bottom'].set_bounds(xticks[0], xticks[-1])
    a.spines['left'].set_linewidth(1.2)
    a.spines['bottom'].set_linewidth(1.2)
    a.set_xticks(xticks)
    a.set_xticklabels(['%.1f' % v for v in xticks], fontsize=8.6, color='#333333')
    a.set_yticks(ticks)
    a.set_yticklabels(tick_labels, fontsize=8.6, rotation=90, va='center', color='#333333')
    a.tick_params(axis='both', length=4, width=1, pad=2.5)
    fig.text(fx(tx), fy(title_py + 1.5), title, ha='center', va='center', fontsize=13.4, color='#222222')
    fig.text(fx(xlab_cx), fy(x_axis_py + 30.5), xlab, ha='center', va='center', fontsize=13.25, color='#222222')
    fig.text(fx(ylx), fy(label_py), ylab, rotation=90, ha='center', va='center', fontsize=13.25, color='#222222',
             linespacing=1.5, multialignment='center')


GREEN = '#00FF00'
BLUE = '#0000FF'
gy_xticks = [0.2, 0.4, 0.6, 0.8]
bl_xticks = [0.0, 0.2, 0.4, 0.6, 0.8]
t5 = [0.0, 0.1, 0.2, 0.3, 0.4, 0.5]
t6 = t5 + [0.6]
t7 = t6 + [0.7]
t_st = [0.0, 0.05, 0.10, 0.15, 0.20, 0.25, 0.30, 0.35]
l_st = ['0.00', '', '0.10', '', '0.20', '', '0.30', '']
t_even = [0.0, 0.2, 0.4, 0.6]
t_even8 = t_even + [0.8]


def fmt(vals):
    return ['%.1f' % v for v in vals]


scatter_panel(gy_cd8, GREEN, cor_titles[0][0], y_names[0], 0, ((0.0, 202.7), (0.5, 27.7)), 209, t5, fmt(t5), gy_xticks, 122, 8)
scatter_panel(blue_cd8, BLUE, cor_titles[0][1], y_names[0], 1, ((0.0, 202), (0.6, 42.7)), 209, t6, fmt(t6), bl_xticks, 122, 8)
scatter_panel(gy_stromal, GREEN, cor_titles[1][0], y_names[1], 0, ((0.0, 464.7), (0.3, 304.7)), 471.7, t_st, l_st, gy_xticks, 384, 270)
scatter_panel(blue_stromal, BLUE, cor_titles[1][1], y_names[1], 1, ((0.0, 465), (0.6, 322.3)), 470.7, t_even, fmt(t_even), bl_xticks, 384, 270)
scatter_panel(gy_immune, GREEN, cor_titles[2][0], y_names[2], 0, ((0.0, 732.7), (0.7, 551)), 739, t7, fmt(t7), gy_xticks, 645, 538)
scatter_panel(blue_immune, BLUE, cor_titles[2][1], y_names[2], 1, ((0.0, 732), (0.8, 567.3)), 739, t_even8, fmt(t_even8), bl_xticks, 645, 538)
scatter_panel(gy_estimate, GREEN, cor_titles[3][0], y_names[3], 0, ((0.0, 987.3), (0.5, 827.3)), 993.7, t5, fmt(t5), gy_xticks, 907, 793)
scatter_panel(blue_estimate, BLUE, cor_titles[3][1], y_names[3], 1, ((0.0, 989.7), (0.8, 814.3)), 993.7, t_even8, fmt(t_even8), bl_xticks, 907, 793)
scatter_panel(gy_purity, GREEN, cor_titles[4][0], y_names[4], 0, ((0.0, 1244.3), (0.5, 1083.7)), 1250.7, t5, fmt(t5), gy_xticks, 1165, 1050)
scatter_panel(blue_purity, BLUE, cor_titles[4][1], y_names[4], 1, ((0.0, 1244.7), (0.8, 1078.3)), 1250.7, t_even8, fmt(t_even8), bl_xticks, 1165, 1050)

fig.savefig('out.png', dpi=100)
